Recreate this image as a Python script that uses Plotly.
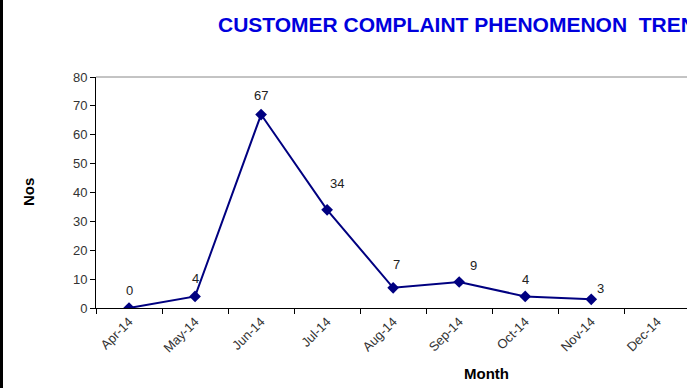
import plotly.graph_objects as go

months = ["Apr-14", "May-14", "Jun-14", "Jul-14", "Aug-14", "Sep-14", "Oct-14", "Nov-14", "Dec-14"]
complaints = [0, 4, 67, 34, 7, 9, 4, 3, None]
label_xshift = [0, 0, 0, 10, 3, 14, 0, 9, 0]
label_yshift = [18, 18, 19, 26, 23, 17, 17, 11, 0]

title_text = "CUSTOMER COMPLAINT PHENOMENON\u00a0\u00a0TREND"
y_title = "Nos"
x_title = "Month"

navy = "#000080"

fig = go.Figure()
fig.add_trace(go.Scatter(
    x=months, y=complaints, mode="lines+markers",
    line=dict(color=navy, width=2),
    marker=dict(symbol="diamond", size=9, color=navy),
    connectgaps=False, hoverinfo="skip",
))

annotations = []
for m, v, dx, dy in zip(months, complaints, label_xshift, label_yshift):
    if v is None:
        continue
    annotations.append(dict(
        x=m, y=v, xref="x", yref="y", text=str(v), showarrow=False,
        xanchor="center", yanchor="middle",
        xshift=dx, yshift=dy, font=dict(family="Arial", size=13, color="#222222"),
    ))

annotations.append(dict(
    x=216, y=24.5, text="<b>" + title_text + "</b>",
    showarrow=False, xanchor="left", yanchor="middle",
    font=dict(family="Arial", size=21, color="#0000DD"),
))
annotations.append(dict(
    x=28, y=192, text="<b>" + y_title + "</b>", textangle=-90, showarrow=False,
    xanchor="center", yanchor="middle",
    font=dict(family="Arial", size=15, color="#000000"),
))
annotations.append(dict(
    x=487, y=374, text="<b>" + x_title + "</b>", showarrow=False,
    xanchor="center", yanchor="middle",
    font=dict(family="Arial", size=15, color="#000000"),
))

# convert pixel-placed annotations to paper coords
W, H = 687, 388
L, R, T, B = 96, 0, 77, 80
pw, ph = W - L - R, H - T - B
for a in annotations[-3:]:
    px, py = a["x"], a["y"]
    a["xref"] = "paper"
    a["yref"] = "paper"
    a["x"] = (px - L) / pw
    a["y"] = (H - B - py) / ph

fig.update_layout(
    width=W, height=H,
    margin=dict(l=L, r=R, t=T, b=B),
    paper_bgcolor="white", plot_bgcolor="white",
    showlegend=False,
    annotations=annotations,
    font=dict(family="Arial", size=13, color="#333333"),
    xaxis=dict(
        type="category", range=[-0.5, 8.45], tickson="boundaries",
        showline=True, linecolor="black", linewidth=1,
        ticks="outside", ticklen=5, tickcolor="black",
        tickangle=-45, showgrid=False, zeroline=False,
        tickfont=dict(family="Arial", size=13, color="#333333"),
    ),
    yaxis=dict(
        range=[0, 80], dtick=10, showline=True, linecolor="black", linewidth=1,
        ticks="outside", ticklen=5, tickcolor="black", showgrid=False,
        zeroline=False, tickfont=dict(family="Arial", size=13, color="#333333"),
    ),
    shapes=[
        dict(type="line", xref="paper", yref="paper", x0=0, x1=1, y0=1, y1=1,
             line=dict(color="#888888", width=1)),
        dict(type="line", xref="paper", yref="paper",
             x0=-L / pw + 1.5 / pw, x1=-L / pw + 1.5 / pw, y0=-B / ph, y1=(ph + T) / ph,
             line=dict(color="black", width=3)),
    ],
)

fig.write_html(
    "out.html",
    config={"displayModeBar": False},
    post_script="document.body.style.margin='0';document.body.style.overflow='hidden';",
)
